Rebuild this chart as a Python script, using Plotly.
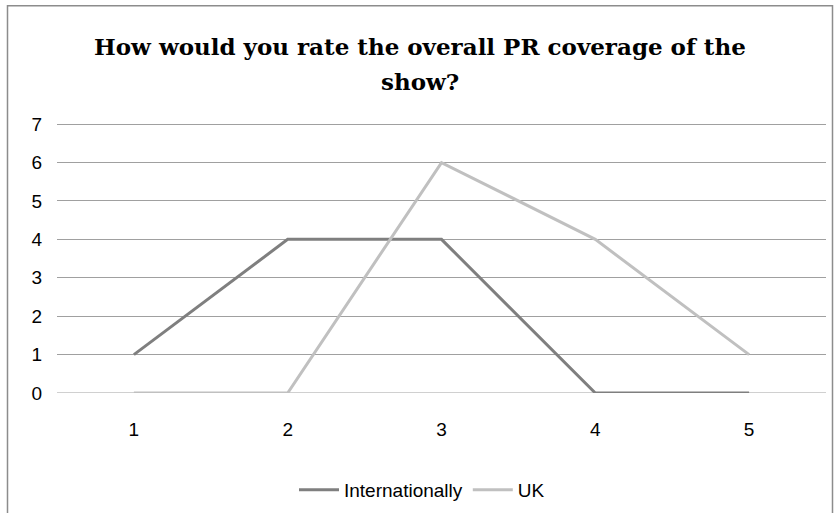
import plotly.graph_objects as go

categories = ["1", "2", "3", "4", "5"]
internationally = [1, 4, 4, 0, 0]
uk = [0, 0, 6, 4, 1]
title_lines = ["How would you rate the overall PR coverage of the", "show?"]

W, H = 834, 513
YMAX = 7.03
unit = 269 / 7
L, R, B = 57, 8, 120
T = H - B - YMAX * unit
pw = W - L - R
ph = H - T - B

fig = go.Figure()
fig.add_trace(go.Scatter(x=categories, y=internationally, mode="lines", name="Internationally",
                         line=dict(color="#7f7f7f", width=3)))
fig.add_trace(go.Scatter(x=categories, y=uk, mode="lines", name="UK",
                         line=dict(color="#c0c0c0", width=3)))

def px_x(x):
    return (x - L) / pw

def px_y(y):
    return (H - B - y) / ph

annotations = []
for i, line in enumerate(title_lines):
    annotations.append(dict(text="<b>" + line + "</b>", xref="paper", yref="paper",
                            x=px_x(420), y=px_y(46 + 35 * i),
                            xanchor="center", yanchor="middle", showarrow=False,
                            font=dict(family="DejaVu Serif", size=23, color="#000000")))

fig.update_layout(
    width=W, height=H,
    margin=dict(l=L, r=R, t=T, b=B, autoexpand=False),
    paper_bgcolor="white", plot_bgcolor="white",
    showlegend=True,
    legend=dict(orientation="h", x=px_x(422), xanchor="center", y=px_y(490), yanchor="middle",
                font=dict(family="Liberation Sans, Arial", size=19, color="#000000"),
                itemwidth=40, tracegroupgap=0),
    annotations=annotations,
    shapes=[dict(type="rect", xref="paper", yref="paper",
                 x0=px_x(7.5), x1=px_x(832.5), y0=px_y(530), y1=px_y(5.5),
                 line=dict(color="#8c8c8c", width=1.5), fillcolor="rgba(0,0,0,0)", layer="below")],
    xaxis=dict(type="category", range=[-0.5, 4.5], showgrid=False, zeroline=False, showline=False,
               ticks="", ticklabelstandoff=23, automargin=False,
               tickfont=dict(family="Liberation Sans, Arial", size=19, color="#000000")),
    yaxis=dict(range=[0, YMAX], tickvals=[0, 1, 2, 3, 4, 5, 6, 7], showgrid=True,
               gridcolor="#a0a0a0", gridwidth=1, automargin=False,
               zeroline=False, showline=False, ticks="", ticklabelstandoff=14,
               tickfont=dict(family="Liberation Sans, Arial", size=19, color="#000000")),
)
fig.add_shape(type="line", xref="paper", yref="y", x0=0, x1=1, y0=0, y1=0,
              line=dict(color="#a0a0a0", width=1), layer="below")

fig.write_html("out.html")
